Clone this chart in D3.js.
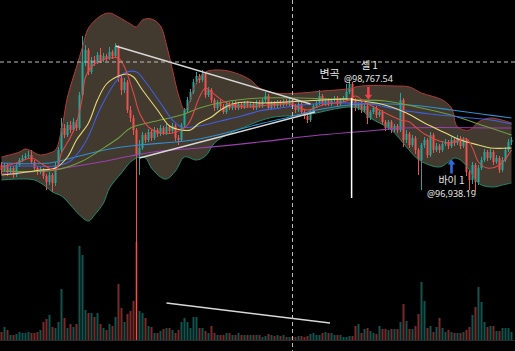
<!DOCTYPE html>
<html><head><meta charset="utf-8">
<script src="https://cdn.jsdelivr.net/npm/d3@7"></script>
<style>html,body{margin:0;padding:0;background:#000;}svg{display:block}</style>
</head><body>
<svg id="c" width="515" height="351"></svg>
<script>
// ---- candle data (price units) ----
const opens = [96400,96200,96400,96120,96280,96000,96400,96600,96680,96760,
96800,96520,96280,96120,96200,95960,95720,96000,95680,96400,
97000,97880,97600,98000,97800,98120,97880,99200,100520,101000,
100120,100600,100520,100800,100600,100760,100680,100920,100760,101120,
99880,99400,99720,98600,98280,97800,96800,97080,97600,97400,
97720,97480,97800,97640,97880,97680,97920,97760,97960,97480,
97400,98000,98600,99000,99320,99720,99960,99800,100040,99200,
99400,99000,98680,98920,98760,98520,98840,98680,98880,98680,
98840,98720,98880,98760,98840,98680,98920,98760,99000,99160,
98680,98880,98760,98920,98800,98960,98840,99000,98760,98600,
98840,98520,98360,98200,98520,98760,98880,99160,98840,99000,
98840,99000,99080,98840,99000,99080,99320,99640,99000,98680,
98840,98600,98760,98280,98520,98680,98400,98520,98120,97880,
98120,97800,97960,97800,99000,97400,97640,97200,97480,97000,
96600,97200,97400,96800,97600,97000,97160,97000,97240,97320,
97160,97400,97280,97480,97160,97400,96120,95800,96400,95720,
96280,96600,96920,96680,96920,96520,96680,96200,96600,97000,
97320];
const closes = [96200,96400,96120,96280,96000,96400,96600,96680,96760,96800,
96520,96280,96120,96200,95960,95720,96000,95680,96400,97000,
97880,97600,98000,97800,98120,97880,99200,100520,101000,100120,
100600,100520,100800,100600,100760,100680,100920,100760,101120,99880,
99400,99720,98600,98280,97800,96800,97080,97600,97400,97720,
97480,97800,97640,97880,97680,97920,97760,97960,97480,97400,
98000,98600,99000,99320,99720,99960,99800,100040,99200,99400,
99000,98680,98920,98760,98520,98840,98680,98880,98680,98840,
98720,98880,98760,98840,98680,98920,98760,99000,99160,98680,
98880,98760,98920,98800,98960,98840,99000,98760,98600,98840,
98520,98360,98200,98520,98760,98880,99160,98840,99000,98840,
99000,99080,98840,99000,99080,99320,99640,99000,98680,98840,
98600,98760,98280,98520,98680,98400,98520,98120,97880,98120,
97800,97960,97800,99000,97400,97640,97200,97480,97000,96600,
97200,97400,96800,97600,97000,97160,97000,97240,97320,97160,
97400,97280,97480,97160,97400,96120,95800,96400,95720,96280,
96600,96920,96680,96920,96520,96680,96200,96600,97000,97320,
97400];
const highs = [96520,96480,96480,96360,96360,96480,96680,96800,96880,96960,
97000,96600,96360,96320,96280,96040,96120,96080,96520,97120,
98280,98040,98120,98160,98280,98200,99320,101560,101200,101080,
100720,100760,100920,101080,100880,100840,101120,101000,101280,101200,
100000,99880,99800,98760,98400,97880,97400,97720,97680,97840,
97800,97920,97880,98000,97960,98040,98000,98080,98040,97600,
98080,98680,99120,99440,99840,100120,100040,100200,100120,99520,
99480,99080,99000,99000,98840,98920,98920,98960,98960,98920,
98920,98960,98960,98920,98920,99000,99000,99080,99320,99240,
98960,98960,99000,99000,99040,99040,99080,99080,98840,98920,
98920,98600,98440,98600,98840,98960,99400,99240,99080,99080,
99080,99160,99160,99080,99160,99640,99800,99720,99080,98920,
98920,98840,98840,98600,98760,98760,98600,98600,98200,98200,
98200,98040,98040,99280,99080,97800,97720,97600,97560,97080,
97280,97520,97480,97720,97680,97280,97240,97360,97440,97400,
97520,97480,97600,97560,97520,97480,96200,96520,96480,96400,
96720,97040,97000,97040,97000,96800,96760,96720,97120,97440,
97520];
const lows = [96040,96120,95960,96040,95880,95920,96320,96520,96600,96680,
96440,96200,96000,96040,95840,95400,95600,95320,95560,96320,
96920,97480,97520,97680,97720,97760,97800,99120,100360,100000,
100040,100360,100440,100480,100520,100560,100600,100640,100680,99720,
99200,99280,98480,98120,97600,89400,96000,97000,97280,97320,
97360,97400,97520,97560,97600,97600,97640,97680,97360,97200,
97320,97920,98520,98920,99240,99640,99680,99720,99080,99120,
98880,98560,98600,98640,98440,98440,98600,98600,98600,98600,
98640,98640,98680,98680,98600,98600,98680,98680,98920,98600,
98600,98680,98680,98720,98720,98760,98760,98680,98480,98520,
98440,98240,98080,98120,98440,98680,98800,98760,98760,98760,
98760,98920,98760,98760,98920,99000,99240,98880,98560,98600,
98480,98520,98040,98200,98440,98280,98320,98000,97760,97800,
97680,97720,97680,97720,97120,97280,97080,97120,96840,96000,
95400,97080,96680,96720,96880,96920,96880,96920,97160,97040,
97080,97160,97200,97040,97080,95960,95400,95640,95320,95600,
96200,96520,96560,96600,96400,96440,96080,96120,96520,96920,
97200];
const volumes = [80,130,100,50,50,60,80,70,70,80,
70,70,80,100,180,210,250,130,120,180,
510,220,120,160,130,160,940,850,300,270,
270,230,270,160,120,100,160,140,230,560,
320,180,260,290,390,980,290,270,220,140,
130,70,70,90,110,120,120,100,70,100,
180,220,180,120,230,230,120,120,90,70,
140,70,50,50,50,70,70,50,50,70,
50,50,50,50,50,50,50,30,40,60,
50,40,50,40,50,30,30,30,30,40,
40,30,40,60,70,50,50,70,80,70,
70,50,50,50,30,30,40,40,140,160,
70,110,120,90,70,60,140,110,110,100,
110,110,110,180,360,190,110,110,140,260,
580,390,120,140,80,130,220,120,80,100,
80,70,70,70,80,100,130,250,330,530,
380,180,130,140,140,90,90,120,120,120,
80];

// ---- indicator lines: [candle index, price] ----
const bbUpper = [[0,96720],[6,96920],[8,97040],[13,96800],[16,96880],[18,97000],[20,97800],[22,99120],[25,100320],[27,101120],[29,101880],[33,102360],[36,102480],[39,102320],[43,102040],[45,101920],[47,102200],[50,102240],[53,101960],[55,101200],[57,100200],[59,99200],[61,98600],[62,98720],[65,99720],[68,100120],[73,100200],[78,100080],[83,99800],[86,99480],[91,99280],[100,99280],[107,99360],[115,99440],[120,99560],[131,99560],[136,99520],[140,99280],[147,99000],[150,98680],[152,97920],[156,97800],[159,98120],[163,98280],[170,98080]];
const bbLower = [[0,95800],[6,95840],[11,95800],[15,95520],[17,95320],[20,95160],[23,94800],[26,94400],[29,94160],[31,94400],[34,94880],[36,95480],[40,96080],[43,96520],[46,96720],[48,96680],[50,96280],[53,95920],[55,95840],[58,96160],[61,96720],[65,96600],[68,96760],[71,97280],[75,97600],[81,97920],[86,98160],[91,98320],[101,98400],[105,98480],[111,98640],[117,98720],[120,98600],[123,98280],[126,98080],[130,97800],[135,97120],[138,96720],[141,96480],[146,96320],[149,96520],[151,96680],[153,96600],[156,96200],[158,95800],[160,95600],[164,95520],[167,95600],[170,95680]];
const maRed = [[0,96320],[6,96520],[10,96680],[14,96400],[18,96200],[20,96880],[23,97520],[25,98080],[27,99120],[28,99920],[31,100440],[36,100680],[39,100680],[41,100320],[44,99280],[46,98480],[49,97920],[52,97720],[57,97680],[62,98000],[66,99120],[68,99480],[70,99320],[75,98880],[80,98720],[86,98760],[96,98840],[102,98600],[107,98800],[115,98960],[118,99160],[121,98920],[126,98600],[130,98360],[133,98200],[136,98120],[138,97920],[141,97640],[146,97360],[150,97280],[155,97440],[157,97080],[159,96520],[162,96280],[166,96400],[170,97000]];
const maYellow = [[0,96000],[6,96080],[13,96200],[18,96280],[22,96720],[25,97400],[29,98080],[32,99000],[35,99640],[39,99960],[42,100040],[44,99920],[47,99400],[52,98600],[56,97960],[60,97800],[63,97800],[66,98080],[70,98320],[73,98600],[77,98840],[82,98920],[86,98880],[95,98920],[107,99000],[116,99040],[120,98960],[125,98880],[130,98720],[135,98480],[141,98080],[148,97680],[153,97400],[159,97200],[163,97080],[170,97080]];
const maBlue = [[0,96360],[10,96360],[18,96360],[23,96560],[28,97320],[33,98680],[38,99720],[41,100080],[45,100120],[48,99720],[53,98880],[57,98200],[60,97920],[66,97960],[73,98160],[80,98360],[86,98560],[93,98680],[100,98800],[110,98880],[117,98880],[123,98840],[133,98600],[143,98440],[153,98320],[163,98200],[170,98040]];
const maLightBlue = [[0,96480],[16,96480],[26,96760],[36,97040],[46,97200],[58,97320],[66,97440],[76,97720],[86,98040],[96,98320],[105,98600],[113,98760],[120,98840],[130,98840],[140,98760],[150,98600],[160,98440],[170,98280]];
const maGreen = [[0,96160],[18,96200],[27,96560],[33,97000],[39,97480],[43,97880],[50,98120],[60,98400],[66,98680],[76,98960],[86,99080],[100,99080],[117,99000],[128,98960],[140,98680],[151,98360],[161,97960],[170,97600]];
const maPurple = [[0,96040],[16,96200],[33,96520],[43,96760],[53,96960],[66,97080],[86,97320],[106,97600],[126,97800],[133,97880],[170,97880]];

// drawings
const triUpper = [[38,101160],[103,98840]];
const triLower = [[46,96680],[104.5,98520]];
const volTrend = [[55,370],[109.5,170]];
const crossIdx = 97, crossPrice = 100520;
const inflection = {idx:116.7, top:99080, bottom:95080, label:"변곡"};
const sell = {idx:122.3, price:98767.54, label:"셀 1", priceLabel:"@98,767.54"};
const buy = {idx:150, price:96938.19, label:"바이 1", priceLabel:"@96,938.19"};

// ---- scales ----
const svg = d3.select("#c");
const W = 515, H = 351;
const x = d3.scaleLinear().domain([-0.5, 170.5]).range([0, 513]);
const y = d3.scaleLinear().domain([95000, 103000]).range([200, 0]);
const yv = d3.scaleLinear().domain([0, 1000]).range([340, 240]);

svg.append("rect").attr("width", W).attr("height", H).attr("fill", "#000");

const UP = "#26a69a", DN = "#ef5350";
const idx = d3.range(closes.length);

const line = d3.line().x(d => x(d[0])).y(d => y(d[1])).curve(d3.curveCatmullRom.alpha(0.5));

// band fill
const upPath = line(bbUpper);
const loPath = line(bbLower.slice().reverse());
svg.append("path").attr("d", upPath + "L" + loPath.slice(1) + "Z").attr("fill", "#42392f");

// volume
svg.append("line").attr("x1", 0).attr("x2", W).attr("y1", 340.5).attr("y2", 340.5).attr("stroke", "#2a2a2a");
svg.append("g").selectAll("rect").data(idx).join("rect")
  .attr("x", i => x(i) - 1).attr("width", 2)
  .attr("y", i => yv(volumes[i])).attr("height", i => yv(0) - yv(volumes[i]))
  .attr("fill", i => closes[i] >= opens[i] ? UP : DN).attr("opacity", 0.5);

// candles
const cg = svg.append("g");
cg.selectAll("line").data(idx).join("line")
  .attr("x1", i => x(i)).attr("x2", i => x(i))
  .attr("y1", i => y(highs[i])).attr("y2", i => y(lows[i]))
  .attr("stroke", i => closes[i] >= opens[i] ? UP : DN).attr("stroke-width", 1);
cg.selectAll("rect").data(idx).join("rect")
  .attr("x", i => x(i) - 1).attr("width", 2)
  .attr("y", i => y(Math.max(opens[i], closes[i])))
  .attr("height", i => Math.max(1, Math.abs(y(opens[i]) - y(closes[i]))))
  .attr("fill", i => closes[i] >= opens[i] ? UP : DN);

// band lines
svg.append("path").attr("d", upPath).attr("fill", "none").attr("stroke", "#b23a3a").attr("stroke-width", 1);
svg.append("path").attr("d", line(bbLower)).attr("fill", "none").attr("stroke", "#1f8a6c").attr("stroke-width", 1);

// moving averages
const mas = [
  [maPurple, "#9a40b0"], [maLightBlue, "#2f8fd0"], [maGreen, "#6fa040"],
  [maBlue, "#3f5fe0"], [maYellow, "#e6d97a"], [maRed, "#e04848"]
];
mas.forEach(([d, c]) => svg.append("path").attr("d", line(d)).attr("fill", "none").attr("stroke", c).attr("stroke-width", 1.1));

// trend lines
const straight = d3.line().x(d => x(d[0])).y(d => y(d[1]));
svg.append("path").attr("d", straight(triUpper)).attr("stroke", "#d8d8d8").attr("stroke-width", 1.5).attr("fill", "none");
svg.append("path").attr("d", straight(triLower)).attr("stroke", "#d8d8d8").attr("stroke-width", 1.5).attr("fill", "none");
svg.append("path").attr("d", d3.line().x(d => x(d[0])).y(d => yv(d[1]))(volTrend)).attr("stroke", "#d8d8d8").attr("stroke-width", 1.5).attr("fill", "none");

// crosshair
svg.append("line").attr("x1", 0).attr("x2", W).attr("y1", y(crossPrice)).attr("y2", y(crossPrice))
  .attr("stroke", "#bdbdbd").attr("stroke-dasharray", "4,3");
svg.append("line").attr("x1", x(crossIdx)).attr("x2", x(crossIdx)).attr("y1", 0).attr("y2", H)
  .attr("stroke", "#bdbdbd").attr("stroke-dasharray", "4,3");

// inflection marker
svg.append("line").attr("x1", x(inflection.idx)).attr("x2", x(inflection.idx))
  .attr("y1", y(inflection.top)).attr("y2", y(inflection.bottom)).attr("stroke", "#ffffff").attr("stroke-width", 1.5);

const txt = (tx, ty, s, size, fam) => svg.append("text").attr("x", tx).attr("y", ty).attr("text-anchor", "middle")
  .attr("font-family", fam).attr("font-size", size)
  .attr("fill", "#e6e6e6").text(s);
const KR = "'Noto Sans CJK KR','Noto Sans',sans-serif";
const LAT = "'Noto Sans','DejaVu Sans',sans-serif";

txt(x(inflection.idx) - 22, 78, inflection.label, 11, KR);

// sell arrow (down)
{
  const ax = x(sell.idx), tip = y(sell.price) - 6;
  svg.append("path").attr("d", `M${ax-1.3},${tip-13}L${ax+1.3},${tip-13}L${ax+1.3},${tip-5}L${ax+3.8},${tip-5}L${ax},${tip}L${ax-3.8},${tip-5}L${ax-1.3},${tip-5}Z`).attr("fill", "#f0404e");
  txt(ax + 1, 69, sell.label, 10, KR);
  txt(ax, 82, sell.priceLabel, 9, LAT);
}
// buy arrow (up)
{
  const ax = x(buy.idx), tip = y(buy.price) + 8;
  svg.append("path").attr("d", `M${ax-1.3},${tip+14}L${ax+1.3},${tip+14}L${ax+1.3},${tip+5}L${ax+3.8},${tip+5}L${ax},${tip}L${ax-3.8},${tip+5}L${ax-1.3},${tip+5}Z`).attr("fill", "#2f6ce0");
  txt(ax, 184, buy.label, 10, KR);
  txt(ax, 197, buy.priceLabel, 9, LAT);
}
</script>
</body></html>
